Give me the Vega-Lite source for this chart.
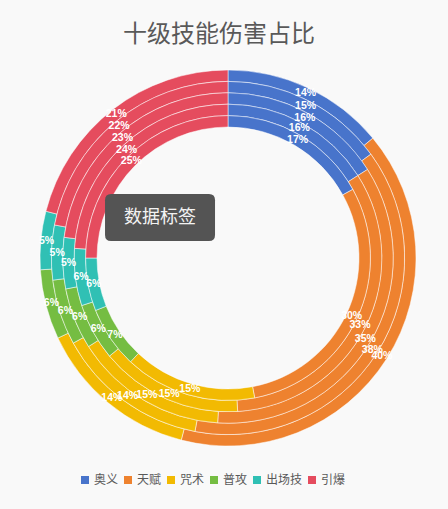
{
  "$schema": "https://vega.github.io/schema/vega-lite/v6.json",
  "autosize": {"type": "none"},
  "width": 440,
  "height": 502,
  "padding": {"left": 8, "top": 7, "right": 0, "bottom": 0},
  "background": "#f9f9f9",
  "title": {
    "text": "十级技能伤害占比",
    "font": "Noto Sans CJK SC",
    "fontSize": 24,
    "fontWeight": "normal",
    "color": "#595959",
    "anchor": "middle",
    "frame": "group",
    "baseline": "alphabetic",
    "offset": -59,
    "dx": -9
  },
  "config": {"view": {"stroke": null}},
  "layer": [
    {
      "data": {
        "values": [
          {"ring": 5, "k": 1, "cat": "奥义", "v": 0.14},
          {"ring": 5, "k": 2, "cat": "天赋", "v": 0.40},
          {"ring": 5, "k": 3, "cat": "咒术", "v": 0.14},
          {"ring": 5, "k": 4, "cat": "普攻", "v": 0.06},
          {"ring": 5, "k": 5, "cat": "出场技", "v": 0.05},
          {"ring": 5, "k": 6, "cat": "引爆", "v": 0.21},
          {"ring": 4, "k": 1, "cat": "奥义", "v": 0.15},
          {"ring": 4, "k": 2, "cat": "天赋", "v": 0.38},
          {"ring": 4, "k": 3, "cat": "咒术", "v": 0.14},
          {"ring": 4, "k": 4, "cat": "普攻", "v": 0.06},
          {"ring": 4, "k": 5, "cat": "出场技", "v": 0.05},
          {"ring": 4, "k": 6, "cat": "引爆", "v": 0.22},
          {"ring": 3, "k": 1, "cat": "奥义", "v": 0.16},
          {"ring": 3, "k": 2, "cat": "天赋", "v": 0.35},
          {"ring": 3, "k": 3, "cat": "咒术", "v": 0.15},
          {"ring": 3, "k": 4, "cat": "普攻", "v": 0.06},
          {"ring": 3, "k": 5, "cat": "出场技", "v": 0.05},
          {"ring": 3, "k": 6, "cat": "引爆", "v": 0.23},
          {"ring": 2, "k": 1, "cat": "奥义", "v": 0.16},
          {"ring": 2, "k": 2, "cat": "天赋", "v": 0.33},
          {"ring": 2, "k": 3, "cat": "咒术", "v": 0.15},
          {"ring": 2, "k": 4, "cat": "普攻", "v": 0.06},
          {"ring": 2, "k": 5, "cat": "出场技", "v": 0.06},
          {"ring": 2, "k": 6, "cat": "引爆", "v": 0.24},
          {"ring": 1, "k": 1, "cat": "奥义", "v": 0.17},
          {"ring": 1, "k": 2, "cat": "天赋", "v": 0.30},
          {"ring": 1, "k": 3, "cat": "咒术", "v": 0.15},
          {"ring": 1, "k": 4, "cat": "普攻", "v": 0.07},
          {"ring": 1, "k": 5, "cat": "出场技", "v": 0.06},
          {"ring": 1, "k": 6, "cat": "引爆", "v": 0.25}
        ]
      },
      "layer": [
        {
          "mark": {"type": "arc", "stroke": "#ffffff", "strokeWidth": 0.5, "radius2Offset": -11.4},
          "encoding": {
            "theta": {"field": "v", "type": "quantitative", "stack": true},
            "radius": {"field": "ring", "type": "quantitative", "scale": {"type": "linear", "domain": [0, 5], "range": [131, 188], "nice": false}},
            "radius2": {"field": "ring"},
            "order": {"field": "k", "type": "quantitative"},
            "color": {
              "field": "cat",
              "type": "nominal",
              "scale": {
                "domain": ["奥义", "天赋", "咒术", "普攻", "出场技", "引爆"],
                "range": ["#4874CB", "#EE822F", "#F2BA02", "#75BD42", "#30C0B4", "#E54C5E"]
              },
              "legend": {
                "title": null,
                "orient": "none",
                "direction": "horizontal",
                "legendX": 71,
                "legendY": 467,
                "symbolType": "square",
                "symbolSize": 64,
                "symbolStrokeWidth": 0,
                "labelFont": "Noto Sans CJK SC",
                "labelFontSize": 12,
                "labelColor": "#595959",
                "labelOffset": 3,
                "columnPadding": 3,
                "padding": 0
              }
            }
          }
        },
        {
          "mark": {"type": "text", "radiusOffset": -5.7, "color": "#ffffff", "font": "Liberation Sans", "fontSize": 10.5, "fontWeight": "bold"},
          "encoding": {
            "theta": {"field": "v", "type": "quantitative", "stack": true},
            "radius": {"field": "ring", "type": "quantitative", "scale": {"type": "linear", "domain": [0, 5], "range": [131, 188], "nice": false}},
            "order": {"field": "k", "type": "quantitative"},
            "detail": {"field": "cat"},
            "text": {"field": "v", "type": "quantitative", "format": ".0%"}
          }
        }
      ]
    },
    {
      "data": {"values": [{"label": "数据标签", "bx": -0.309, "by": 0.161}]},
      "layer": [
        {
          "mark": {
            "type": "point",
            "filled": true,
            "opacity": 1,
            "color": "#545454",
            "size": 12100,
            "shape": "M-0.89,-0.427 L0.89,-0.427 Q1,-0.427 1,-0.317 L1,0.317 Q1,0.427 0.89,0.427 L-0.89,0.427 Q-1,0.427 -1,0.317 L-1,-0.317 Q-1,-0.427 -0.89,-0.427 Z"
          },
          "encoding": {
            "x": {"field": "bx", "type": "quantitative", "scale": {"domain": [-1, 1], "nice": false}, "axis": null},
            "y": {"field": "by", "type": "quantitative", "scale": {"domain": [-1, 1], "nice": false}, "axis": null}
          }
        },
        {
          "mark": {"type": "text", "color": "#f2f2f2", "font": "Noto Sans CJK SC", "fontSize": 18},
          "encoding": {
            "x": {"field": "bx", "type": "quantitative", "axis": null},
            "y": {"field": "by", "type": "quantitative", "axis": null},
            "text": {"field": "label"}
          }
        }
      ]
    }
  ]
}
